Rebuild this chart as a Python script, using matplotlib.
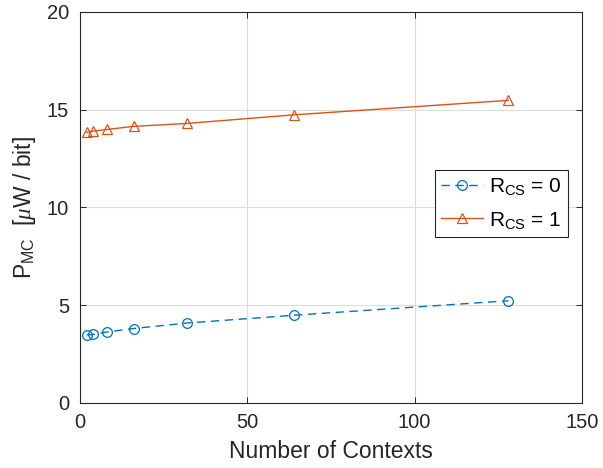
import matplotlib
matplotlib.use("Agg")
import matplotlib.pyplot as plt

contexts = [2, 4, 8, 16, 32, 64, 128]
p_rcs0 = [3.48, 3.51, 3.63, 3.81, 4.09, 4.49, 5.23]
p_rcs1 = [13.85, 13.91, 13.99, 14.15, 14.30, 14.74, 15.48]
xticks = [0, 50, 100, 150]
yticks = [0, 5, 10, 15, 20]

plt.rcParams['font.family'] = ['Liberation Sans', 'DejaVu Sans']
plt.rcParams['mathtext.fontset'] = 'custom'
plt.rcParams['mathtext.rm'] = 'Liberation Sans'
plt.rcParams['mathtext.it'] = 'Liberation Serif:italic'

fig = plt.figure(figsize=(6.03, 4.68), dpi=100)
ax = fig.add_axes([80/603, 65/468, 502/603, 391/468])

c0 = '#0072BD'
c1 = '#D95319'
ax.plot(contexts, p_rcs0, linestyle='--', color=c0, marker='o', markersize=7,
        markerfacecolor='none', markeredgewidth=0.9, linewidth=1.0,
        dashes=(6, 4), label=r'R$_{\mathrm{CS}}$ = 0')
ax.plot(contexts, p_rcs1, linestyle='-', color=c1, marker='^', markersize=7,
        markerfacecolor='none', markeredgewidth=0.9, linewidth=1.0,
        label=r'R$_{\mathrm{CS}}$ = 1')

ax.set_xlim(0, 150)
ax.set_ylim(0, 20)
ax.set_xticks(xticks)
ax.set_yticks(yticks)
ax.grid(True, color='#dcdcdc', linewidth=0.8)
ax.set_axisbelow(True)
for s in ax.spines.values():
    s.set_color('#262626')
    s.set_linewidth(0.8)
ax.tick_params(direction='in', top=True, right=True, length=4, width=0.7,
               color='#262626', labelsize=14.5, labelcolor='#262626')
ax.tick_params(axis='x', pad=7)
ax.tick_params(axis='y', pad=8)
ax.set_xlabel('Number of Contexts', fontsize=16.5, color='#262626', labelpad=6)
ax.set_ylabel(r'P$_{\mathrm{MC}}$  [$\mu$W / bit]', fontsize=16.5, color='#262626', labelpad=6)

leg = ax.legend(loc='upper left', bbox_to_anchor=(435/603, (468-170)/468),
                bbox_transform=fig.transFigure, fontsize=15, frameon=True,
                fancybox=False, edgecolor='#262626', framealpha=1,
                handlelength=2.0, borderpad=0.3, labelspacing=0.6,
                handletextpad=0.3, borderaxespad=0)
leg.get_frame().set_linewidth(0.8)

fig.savefig('out.png', dpi=100)
